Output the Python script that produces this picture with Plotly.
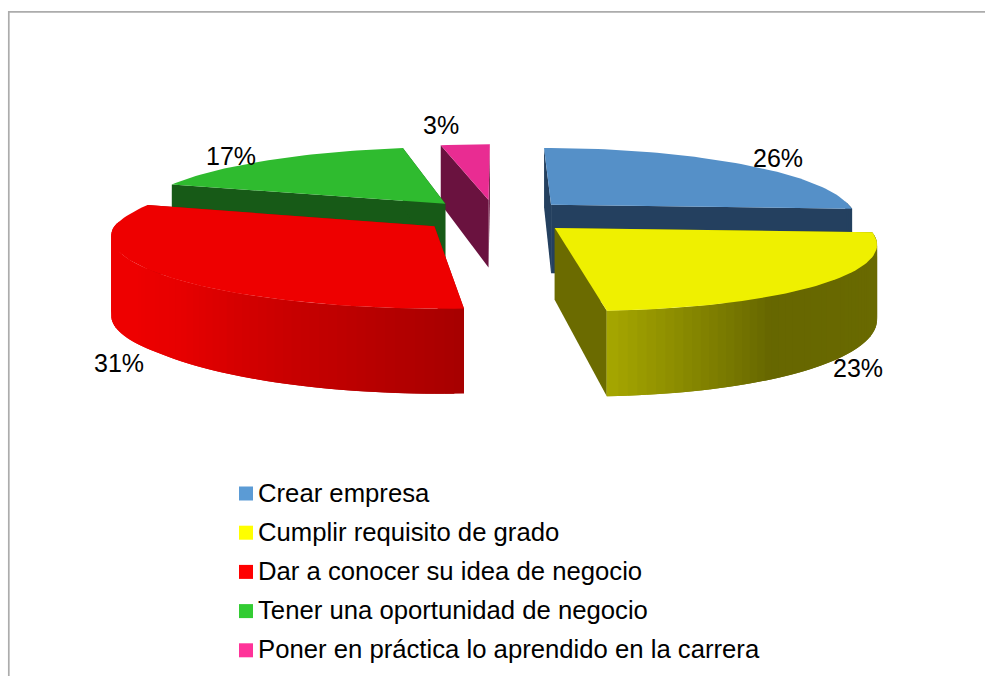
import numpy as np
import plotly.graph_objects as go

categories = ["Crear empresa", "Cumplir requisito de grado", "Dar a conocer su idea de negocio",
              "Tener una oportunidad de negocio", "Poner en práctica lo aprendido en la carrera"]
values = [26, 23, 31, 17, 3]

top_colors = ["#5590c8", "#eff000", "#ee0000", "#2fbb2f", "#e92c92"]
swatch_colors = ["#5b9bd5", "#ffff00", "#ff0000", "#33cc33", "#ff3399"]
radial_shade = ["#24405f", "#6b6b00", "#a80000", "#175a17", "#6a123f"]
label_shift = [(36, -6), (35, 84), (-39, 90), (-40, -4), (-24, -20)]

# projection of the tilted pie plane
XV, YV, A, L, K = 400.0, -220.0, 312.0, 435.0, 0.152
CX, CY = 0.305, -0.013
EXPLODE, HEIGHT, WARP, RIGHT_TRIM, BACK_STRETCH = 0.25, 70.0, 0.05, 0.024, 0.04


def project(lx, ly, drop=0.0):
    """Pie-plane offsets from the pie centre -> pixels."""
    lx = np.asarray(lx, float)
    ly = np.asarray(ly, float)
    X = CX + lx
    Y = CY + ly
    D = 1 + K * Y
    return XV + A * X / D, YV + L / D + np.asarray(drop, float) * HEIGHT / D


def local(theta_deg, mid_deg, r=1.0):
    t = np.radians(theta_deg)
    m = np.radians(mid_deg)
    ex, ey = EXPLODE * np.sin(m), EXPLODE * np.cos(m)
    rx, ry = r * np.sin(t), r * np.cos(t)
    rx = rx - RIGHT_TRIM * r * np.maximum(np.sin(t), 0)
    warp = WARP * (max(ey, 0) + np.maximum(ry, 0))
    ry = ry + BACK_STRETCH * np.maximum(ry, 0)
    return ex + rx + warp, ey + ry


def apex(mid_deg):
    return local(0.0, mid_deg, 0.0)


def hex_rgb(h):
    return np.array([int(h[i:i + 2], 16) for i in (1, 3, 5)], float)


def shade(color, theta):
    f = np.interp(theta, [93, 148, 162.5, 176.4, 191.5, 208.6, 225, 240, 288],
                  [.45, .43, .56, .70, .78, .87, .97, 1, 1])
    c = hex_rgb(color) * f
    return "rgb(%d,%d,%d)" % tuple(c)


def wall_drop(theta):
    return np.interp(theta, [232, 270], [1.0, 1.1])


def poly(fig, xs, ys, color):
    fig.add_trace(go.Scatter(x=list(xs), y=list(ys), mode="lines", fill="toself", fillcolor=color,
                             line=dict(color=color, width=0), hoverinfo="skip", showlegend=False))


fig = go.Figure()

total = sum(values)
edges = np.concatenate([[0], np.cumsum(values)]) / total * 360
labels = []
slices = {}
for i in range(len(values)):
    slices[i] = (edges[i], edges[i + 1], (edges[i] + edges[i + 1]) / 2)

for i in [4, 3, 0, 2, 1]:  # painter's order, back to front
    a0, a1, mid = slices[i]
    ax, ay = apex(mid)
    thetas = np.arange(a0, a1 + 0.01, 1.5)
    thetas = np.append(thetas[thetas < a1 - 0.2], a1)
    # radial cut walls
    for th in (a0, a1):
        rx, ry = local(th, mid)
        xs_t, ys_t = project([ax, rx], [ay, ry])
        xs_b, ys_b = project([rx, ax], [ry, ay], 1.0)
        poly(fig, list(xs_t) + list(xs_b), list(ys_t) + list(ys_b), radial_shade[i])
    # outer wall strips, each overlapping the next so no seams show
    for t0, t1 in zip(thetas[:-1], thetas[1:]):
        if np.cos(np.radians((t0 + t1) / 2)) > 0.05:
            continue
        end = min(t1 + 1.5, a1)
        arc = np.array([t0, t1, end])
        lx, ly = local(arc, mid)
        xs_t, ys_t = project(lx, ly)
        xs_b, ys_b = project(lx[::-1], ly[::-1], wall_drop(arc[::-1]))
        col = shade(top_colors[i], (t0 + t1) / 2) if i in (1, 2) else radial_shade[i]
        poly(fig, list(xs_t) + list(xs_b), list(ys_t) + list(ys_b), col)
    # top face
    lx, ly = local(thetas, mid)
    xs, ys = project(np.r_[ax, lx], np.r_[ay, ly])
    poly(fig, xs, ys, top_colors[i])
    # data label
    lx, ly = local(np.array([mid]), mid)
    px, py = project(lx, ly)
    labels.append(dict(x=float(px[0]) + label_shift[i][0], y=float(py[0]) + label_shift[i][1],
                       text=f"{values[i]}%", showarrow=False, xanchor="center", yanchor="middle",
                       font=dict(family="Liberation Sans", size=25, color="#000000")))

# legend column
legend_x, legend_top, legend_step = 246, 493.5, 39.2
for i, name in enumerate(categories):
    yy = legend_top + i * legend_step
    fig.add_trace(go.Scatter(x=[legend_x], y=[yy], mode="markers", hoverinfo="skip", showlegend=False,
                             marker=dict(symbol="square", size=14, color=swatch_colors[i], line=dict(width=0))))
    labels.append(dict(x=legend_x + 10, y=yy - 1, text=name, showarrow=False, xanchor="left", yanchor="middle",
                       font=dict(family="Liberation Sans", size=25.7, color="#000000")))

fig.update_layout(
    width=985, height=676, margin=dict(l=0, r=0, t=0, b=0),
    paper_bgcolor="white", plot_bgcolor="white", showlegend=False,
    xaxis=dict(range=[0, 985], visible=False, fixedrange=True),
    yaxis=dict(range=[676, 0], visible=False, fixedrange=True),
    annotations=labels,
    shapes=[dict(type="rect", x0=8.8, y0=11.8, x1=995, y1=695, line=dict(color="#acacac", width=1.7))],
)
fig.write_html("out.html", config=dict(displayModeBar=False),
               post_script="document.body.style.margin='0';document.body.style.overflow='hidden';")
